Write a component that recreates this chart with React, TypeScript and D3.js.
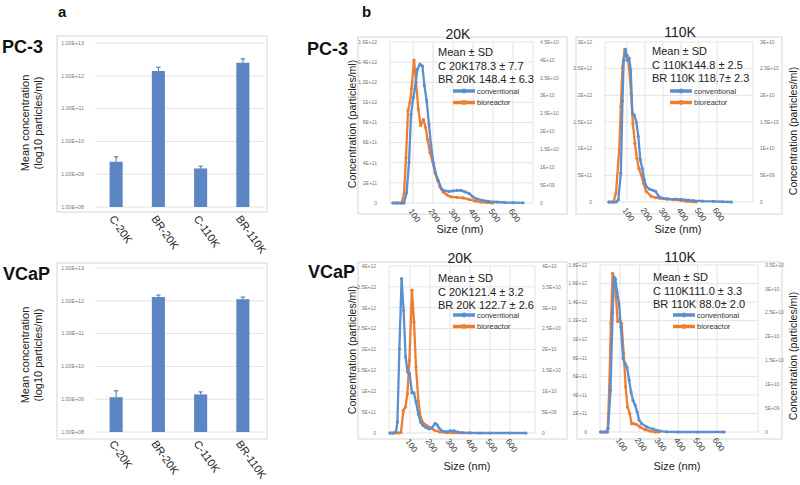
import React from "react";
import * as d3 from "d3";

const FONT = "'Liberation Sans', Arial, Helvetica, sans-serif";

// ---------- Panel a : bar charts (log scale) ----------
const barCategories = ["C-20K", "BR-20K", "C-110K", "BR-110K"];
const pc3BarMeans = [2.4e9, 1.4e12, 1.5e9, 2.5e12];
const pc3BarErrors = [1.0e9, 0.43e12, 0.25e9, 0.8e12];
const vcapBarMeans = [1.15e9, 1.3e12, 1.4e9, 1.12e12];
const vcapBarErrors = [0.65e9, 0.2e12, 0.27e9, 0.18e12];
const barTickValues = [1e8, 1e9, 1e10, 1e11, 1e12, 1e13];
const barTickLabels = ["1.00E+08", "1.00E+09", "1.00E+10", "1.00E+11", "1.00E+12", "1.00E+13"];

// ---------- Panel b : size distributions, values in units of 1e11 particles/ml ----------
type Pt = [number, number];
const pc3_20K_conventional: Pt[] = [
  [0, 0], [20, 0], [40, 0], [55, 0], [68, 1.0], [80, 4.0], [90, 8.8], [102, 10.5], [112, 11.7],
  [122, 13.3], [135, 13.8], [147, 13.6], [157, 11.7], [168, 10.2], [180, 7.8], [190, 5.7],
  [202, 4.0], [213, 3.0], [227, 2.2], [243, 1.4], [260, 1.2], [280, 1.15], [300, 1.2], [320, 1.25],
  [340, 1.25], [360, 1.1], [380, 0.95], [400, 0.6], [420, 0.4], [450, 0.25], [480, 0.15],
  [520, 0.1], [560, 0.05], [600, 0.03], [650, 0.02],
];
const pc3_20K_bioreactor: Pt[] = [
  [0, 0], [20, 0], [43, 0], [55, 0.9], [65, 4.5], [75, 9.2], [85, 10.0], [93, 11.4], [105, 14.2],
  [115, 12.0], [127, 9.3], [138, 7.7], [152, 8.3], [163, 7.5], [173, 6.3], [185, 5.0], [197, 4.2],
  [210, 3.0], [222, 2.3], [235, 1.6], [250, 1.1], [270, 0.8], [290, 0.6], [320, 0.55], [350, 0.5],
  [380, 0.35], [410, 0.2], [440, 0.1], [470, 0.05], [500, 0],
];
const pc3_110K_conventional: Pt[] = [
  [0, 0], [20, 0], [40, 0], [52, 0.4], [66, 5.4], [75, 19], [82, 26.6], [91, 28.6], [101, 26.6],
  [112, 27], [121, 24.7], [130, 16.6], [141, 16.3], [152, 15], [163, 12.3], [174, 7.9], [185, 6.3],
  [196, 4.2], [207, 2.9], [226, 2.4], [244, 2.2], [259, 2.0], [277, 1.0], [300, 0.7], [330, 0.6],
  [370, 0.55], [400, 0.5], [440, 0.35], [470, 0.25], [520, 0.15], [580, 0.1], [630, 0.05], [680, 0],
];
const pc3_110K_bioreactor: Pt[] = [
  [0, 0], [25, 0], [39, 1.7], [57, 9.8], [66, 17.9], [75, 25.3], [88, 28.6], [101, 27.5],
  [112, 25.3], [123, 20.3], [133, 14.7], [144, 11], [155, 8.2], [166, 6.3], [179, 5.1], [192, 3.5],
  [207, 2.0], [235, 1.05], [260, 0.8], [281, 0.7], [320, 0.55], [355, 0.45], [400, 0.3],
  [429, 0.12], [460, 0.05], [485, 0],
];
const vcap_20K_conventional: Pt[] = [
  [0, 0], [17, 0], [30, 0.3], [37, 2.6], [47, 20.2], [58, 37], [68, 29.4], [78, 18.2], [88, 14.6],
  [98, 14.2], [110, 9.6], [120, 9.6], [130, 7.4], [142, 4.5], [153, 2.6], [165, 1.8], [180, 1.3],
  [195, 1.0], [210, 1.2], [225, 2.3], [235, 2.0], [245, 1.2], [260, 0.5], [280, 0.3], [300, 0.5],
  [320, 0.5], [340, 0.2], [360, 0.1], [400, 0.05], [450, 0], [500, 0], [600, 0], [680, 0],
];
const vcap_20K_bioreactor: Pt[] = [
  [0, 0], [20, 0], [45, 0], [55, 0.2], [67, 5.4], [77, 6.2], [87, 9.4], [97, 17.4], [110, 34.2],
  [120, 26.6], [130, 15.8], [142, 7.6], [153, 3.8], [167, 2.4], [183, 1.8], [200, 1.3], [225, 0.6],
  [250, 0.25], [283, 0.1], [320, 0.05], [400, 0],
];
const vcap_110K_conventional: Pt[] = [
  [0, 0], [15, 0], [31, 0], [39, 0.4], [51, 4.5], [62, 12.8], [69, 16.7], [76, 16.5], [85, 15.1],
  [95, 13.8], [105, 11.3], [116, 7.9], [126, 7.4], [136, 7.0], [147, 5.6], [157, 4.3], [167, 3.4],
  [178, 2.9], [188, 2.2], [198, 1.3], [212, 0.9], [238, 0.54], [272, 0.3], [307, 0.1], [341, 0.02],
  [400, 0], [500, 0], [637, 0],
];
const vcap_110K_bioreactor: Pt[] = [
  [0, 0], [20, 0], [36, 0], [45, 4.9], [53, 11.7], [62, 17.1], [71, 16.5], [79, 14.6], [88, 11.9],
  [98, 12.1], [108, 11.7], [119, 8.5], [129, 4.9], [139, 2.7], [150, 2.0], [160, 0.9], [172, 0.9],
  [186, 0.8], [203, 0.54], [229, 0.25], [255, 0.1], [281, 0], [300, 0],
];

const sizeTicks = [100, 200, 300, 400, 500, 600];

const pc3_20K_leftTicks = [0, 2, 4, 6, 8, 10, 12, 14, 16];
const pc3_20K_leftLabels = ["0", "2E+11", "4E+11", "6E+11", "8E+11", "1E+12", "1.2E+12", "1.4E+12", "1.6E+12"];
const pc3_20K_rightTicks = [0, 0.5, 1, 1.5, 2, 2.5, 3, 3.5, 4, 4.5];
const pc3_20K_rightLabels = ["0", "5E+09", "1E+10", "1.5E+10", "2E+10", "2.5E+10", "3E+10", "3.5E+10", "4E+10", "4.5E+10"];

const pc3_110K_leftTicks = [0, 5, 10, 15, 20, 25, 30];
const pc3_110K_leftLabels = ["0", "5E+11", "1E+12", "1.5E+12", "2E+12", "2.5E+12", "3E+12"];
const pc3_110K_rightTicks = [0, 0.5, 1, 1.5, 2, 2.5, 3];
const pc3_110K_rightLabels = ["0", "5E+09", "1E+10", "1.5E+10", "2E+10", "2.5E+10", "3E+10"];

const vcap_20K_leftTicks = [0, 5, 10, 15, 20, 25, 30, 35, 40];
const vcap_20K_leftLabels = ["0", "5E+11", "1E+12", "1.5E+12", "2E+12", "2.5E+12", "3E+12", "3.5E+12", "4E+12"];
const vcap_20K_rightTicks = [0, 0.5, 1, 1.5, 2, 2.5, 3, 3.5, 4];
const vcap_20K_rightLabels = ["0", "5E+09", "1E+10", "1.5E+10", "2E+10", "2.5E+10", "3E+10", "3.5E+10", "4E+10"];

const vcap_110K_leftTicks = [0, 2, 4, 6, 8, 10, 12, 14, 16, 18];
const vcap_110K_leftLabels = ["0", "2E+11", "4E+11", "6E+11", "8E+11", "1E+12", "1.2E+12", "1.4E+12", "1.6E+12", "1.8E+12"];
const vcap_110K_rightTicks = [0, 0.5, 1, 1.5, 2, 2.5, 3, 3.5];
const vcap_110K_rightLabels = ["0", "5E+09", "1E+10", "1.5E+10", "2E+10", "2.5E+10", "3E+10", "3.5E+10"];

const pc3_20K_stats = ["Mean ± SD", "C 20K178.3 ± 7.7", "BR 20K 148.4 ± 6.3"];
const pc3_110K_stats = ["Mean ± SD", "C 110K144.8 ± 2.5", "BR 110K 118.7± 2.3"];
const vcap_20K_stats = ["Mean ± SD", "C 20K121.4 ± 3.2", "BR 20K 122.7 ± 2.6"];
const vcap_110K_stats = ["Mean ± SD", "C 110K111.0 ± 3.3", "BR 110K 88.0± 2.0"];

const seriesNames = ["conventional", "bioreactor"];

const BLUE = "#5b8fd0";
const ORANGE = "#ed7d31";
const BAR = "#5c86c3";
const GRID = "#dcdcdc";
const FRAME = "#d6d6d6";

type Box = { left: number; right: number; top: number; bottom: number };

function BarChart(props: {
  frame: { x: number; y: number; w: number; h: number };
  plot: Box;
  means: number[];
  errors: number[];
  titleCx: number;
  titleCy: number;
}) {
  const { frame, plot, means, errors, titleCx, titleCy } = props;
  const x = d3.scaleBand<string>().domain(barCategories).range([plot.left, plot.right]).paddingInner(0.69).paddingOuter(0.345);
  const y = d3.scaleLog().domain([1e8, 1e13]).range([plot.bottom, plot.top]);
  const bw = x.bandwidth();
  return (
    <g>
      <rect x={frame.x} y={frame.y} width={frame.w} height={frame.h} fill="#fff" stroke={FRAME} strokeWidth={1} />
      {barTickValues.map((t, i) => (
        <g key={i}>
          <line x1={plot.left} x2={plot.right} y1={y(t)} y2={y(t)} stroke={GRID} strokeWidth={0.8} />
          <text x={plot.left - 11} y={y(t)} dy="0.35em" textAnchor="end" fontSize={5.3} fill="#777" fontFamily={FONT}>
            {barTickLabels[i]}
          </text>
        </g>
      ))}
      {barCategories.map((c, i) => {
        const cx = (x(c) as number) + bw / 2;
        const top = y(means[i]);
        const et = y(means[i] + errors[i]);
        return (
          <g key={c}>
            <rect x={x(c)} y={top} width={bw} height={plot.bottom - top} fill={BAR} />
            <line x1={cx} x2={cx} y1={top} y2={et} stroke="#4a6ea8" strokeWidth={1} />
            <line x1={cx - 2.2} x2={cx + 2.2} y1={et} y2={et} stroke="#4a6ea8" strokeWidth={1} />
            <text
              transform={`translate(${cx - 5},${plot.bottom + 10}) rotate(55)`}
              fontSize={11}
              fill="#222"
              fontFamily={FONT}
              dominantBaseline="middle"
            >
              {c}
            </text>
          </g>
        );
      })}
      <g transform={`translate(${titleCx},${titleCy}) rotate(-90)`}>
        <text x={0} y={-6} textAnchor="middle" fontSize={11} fill="#222" fontFamily={FONT}>Mean concentration</text>
        <text x={0} y={6.5} textAnchor="middle" fontSize={11} fill="#222" fontFamily={FONT}>(log10 particles/ml)</text>
      </g>
    </g>
  );
}

function LineChart(props: {
  frame: { x: number; y: number; w: number; h: number };
  plot: Box;
  xDomain: [number, number];
  leftTicks: number[];
  leftLabels: string[];
  rightTicks: number[];
  rightLabels: string[];
  conv: Pt[];
  bio: Pt[];
  title: string;
  titlePos: [number, number];
  stats: string[];
  statsPos: [number, number];
  legendPos: [number, number];
  yTitle: { x: number; cy: number };
  xTitlePos: [number, number];
}) {
  const p = props;
  const { plot } = p;
  const x = d3.scaleLinear().domain(p.xDomain).range([plot.left, plot.right]);
  const yMax = p.leftTicks[p.leftTicks.length - 1];
  const rMax = p.rightTicks[p.rightTicks.length - 1];
  const y = d3.scaleLinear().domain([0, yMax]).range([plot.bottom, plot.top]);
  const yr = d3.scaleLinear().domain([0, rMax]).range([plot.bottom, plot.top]);
  const line = d3.line<Pt>().x((d) => x(d[0])).y((d) => y(d[1]));
  const series = [
    { data: p.bio, color: ORANGE },
    { data: p.conv, color: BLUE },
  ];
  return (
    <g fontFamily={FONT}>
      <rect x={p.frame.x} y={p.frame.y} width={p.frame.w} height={p.frame.h} fill="#fff" stroke={FRAME} strokeWidth={1} />
      {p.leftTicks.map((t, i) => (
        <g key={"l" + i}>
          <line x1={plot.left} x2={plot.right} y1={y(t)} y2={y(t)} stroke={GRID} strokeWidth={0.8} />
          <text x={plot.left - 13} y={y(t)} dy="0.35em" textAnchor="end" fontSize={5} fill="#777">
            {p.leftLabels[i]}
          </text>
        </g>
      ))}
      <line x1={plot.left} x2={plot.left} y1={plot.top} y2={plot.bottom} stroke={GRID} strokeWidth={0.8} />
      <line x1={plot.right} x2={plot.right} y1={plot.top} y2={plot.bottom} stroke={GRID} strokeWidth={0.8} />
      {sizeTicks.map((t) => (
        <line key={"v" + t} x1={x(t)} x2={x(t)} y1={plot.top} y2={plot.bottom} stroke={GRID} strokeWidth={0.8} />
      ))}
      {p.rightTicks.map((t, i) => (
        <text key={"r" + i} x={plot.right + 7} y={yr(t)} dy="0.35em" textAnchor="start" fontSize={5} fill="#777">
          {p.rightLabels[i]}
        </text>
      ))}
      {sizeTicks.map((t) => (
        <text
          key={"x" + t}
          transform={`translate(${x(t) - 3},${plot.bottom + 7}) rotate(55)`}
          fontSize={8.5}
          fill="#444"
          dominantBaseline="middle"
        >
          {t}
        </text>
      ))}
      {series.map((s, i) => (
        <g key={"s" + i}>
          <path d={line(s.data) as string} fill="none" stroke={s.color} strokeWidth={2.3} strokeLinejoin="round" />
          {s.data.map((d, j) => (
            <circle key={j} cx={x(d[0])} cy={y(d[1])} r={1.6} fill={s.color} />
          ))}
        </g>
      ))}
      <text x={p.titlePos[0]} y={p.titlePos[1]} textAnchor="middle" fontSize={14} fill="#222">
        {p.title}
      </text>
      {p.stats.map((s, i) => (
        <text key={"t" + i} x={p.statsPos[0]} y={p.statsPos[1] + i * 13.5} fontSize={11} fill="#222">
          {s}
        </text>
      ))}
      {[BLUE, ORANGE].map((c, i) => {
        const lx = p.legendPos[0];
        const ly = p.legendPos[1] + i * 11.5;
        return (
          <g key={"lg" + i}>
            <line x1={lx} x2={lx + 22} y1={ly} y2={ly} stroke={c} strokeWidth={3.5} />
            <circle cx={lx + 11} cy={ly} r={2.4} fill={c} />
            <text x={lx + 24} y={ly} dy="0.35em" fontSize={7.5} fill="#333">
              {seriesNames[i]}
            </text>
          </g>
        );
      })}
      <text
        transform={`translate(${p.yTitle.x},${p.yTitle.cy}) rotate(-90)`}
        textAnchor="middle"
        fontSize={10.5}
        fill="#222"
        dy="0.35em"
      >
        Concentration (particles/ml)
      </text>
      <text x={p.xTitlePos[0]} y={p.xTitlePos[1]} textAnchor="middle" fontSize={11} fill="#222">
        Size (nm)
      </text>
    </g>
  );
}

export default function App() {
  return (
    <svg width={800} height={485} style={{ display: "block", position: "absolute", left: 0, top: 0, background: "#fff" }}>
      <rect x={0} y={0} width={800} height={485} fill="#fff" />
      <text x={58} y={17} fontSize={15} fontWeight="bold" fontFamily={FONT} fill="#111">a</text>
      <text x={362} y={17} fontSize={15} fontWeight="bold" fontFamily={FONT} fill="#111">b</text>
      <text x={2} y={53} fontSize={18} fontWeight="bold" fontFamily={FONT} fill="#111">PC-3</text>
      <text x={3} y={280} fontSize={18} fontWeight="bold" fontFamily={FONT} fill="#111">VCaP</text>
      <text x={307} y={55} fontSize={18} fontWeight="bold" fontFamily={FONT} fill="#111">PC-3</text>
      <text x={308} y={278} fontSize={18} fontWeight="bold" fontFamily={FONT} fill="#111">VCaP</text>

      <BarChart
        frame={{ x: 57, y: 36, w: 210, h: 176 }}
        plot={{ left: 95, right: 264, top: 43, bottom: 207 }}
        means={pc3BarMeans}
        errors={pc3BarErrors}
        titleCx={35}
        titleCy={123}
      />
      <BarChart
        frame={{ x: 57, y: 263, w: 210, h: 176 }}
        plot={{ left: 95, right: 264, top: 268, bottom: 432 }}
        means={vcapBarMeans}
        errors={vcapBarErrors}
        titleCx={35}
        titleCy={355}
      />

      <LineChart
        frame={{ x: 358, y: 37, w: 209, h: 177 }}
        plot={{ left: 390, right: 533, top: 42, bottom: 203 }}
        xDomain={[-15, 700]}
        leftTicks={pc3_20K_leftTicks}
        leftLabels={pc3_20K_leftLabels}
        rightTicks={pc3_20K_rightTicks}
        rightLabels={pc3_20K_rightLabels}
        conv={pc3_20K_conventional}
        bio={pc3_20K_bioreactor}
        title="20K"
        titlePos={[458, 39]}
        stats={pc3_20K_stats}
        statsPos={[438, 56]}
        legendPos={[453, 91]}
        yTitle={{ x: 352, cy: 124 }}
        xTitlePos={[460, 233]}
      />
      <LineChart
        frame={{ x: 576, y: 37, w: 206, h: 177 }}
        plot={{ left: 605, right: 753, top: 42, bottom: 202 }}
        xDomain={[-22, 800]}
        leftTicks={pc3_110K_leftTicks}
        leftLabels={pc3_110K_leftLabels}
        rightTicks={pc3_110K_rightTicks}
        rightLabels={pc3_110K_rightLabels}
        conv={pc3_110K_conventional}
        bio={pc3_110K_bioreactor}
        title="110K"
        titlePos={[680, 37]}
        stats={pc3_110K_stats}
        statsPos={[652, 55]}
        legendPos={[670, 91]}
        yTitle={{ x: 793, cy: 131 }}
        xTitlePos={[678, 233]}
      />
      <LineChart
        frame={{ x: 358, y: 262, w: 209, h: 177 }}
        plot={{ left: 389, right: 535, top: 266, bottom: 433 }}
        xDomain={[-5, 725]}
        leftTicks={vcap_20K_leftTicks}
        leftLabels={vcap_20K_leftLabels}
        rightTicks={vcap_20K_rightTicks}
        rightLabels={vcap_20K_rightLabels}
        conv={vcap_20K_conventional}
        bio={vcap_20K_bioreactor}
        title="20K"
        titlePos={[460, 263]}
        stats={vcap_20K_stats}
        statsPos={[438, 282]}
        legendPos={[453, 315]}
        yTitle={{ x: 352, cy: 350 }}
        xTitlePos={[467, 470]}
      />
      <LineChart
        frame={{ x: 577, y: 262, w: 205, h: 177 }}
        plot={{ left: 600, right: 758, top: 265, bottom: 432 }}
        xDomain={[-3, 811]}
        leftTicks={vcap_110K_leftTicks}
        leftLabels={vcap_110K_leftLabels}
        rightTicks={vcap_110K_rightTicks}
        rightLabels={vcap_110K_rightLabels}
        conv={vcap_110K_conventional}
        bio={vcap_110K_bioreactor}
        title="110K"
        titlePos={[680, 262]}
        stats={vcap_110K_stats}
        statsPos={[653, 281]}
        legendPos={[673, 315]}
        yTitle={{ x: 793, cy: 356 }}
        xTitlePos={[677, 470]}
      />
    </svg>
  );
}
